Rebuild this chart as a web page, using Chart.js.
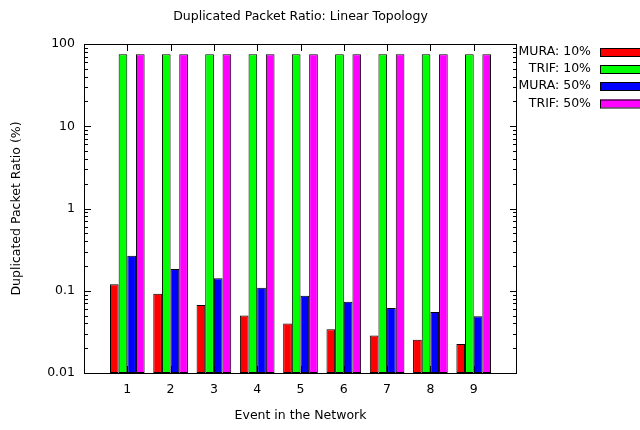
<!DOCTYPE html>
<html>
<head>
<meta charset="utf-8">
<script src="https://cdn.jsdelivr.net/npm/chart.js@4"></script>
<style>
html,body{margin:0;padding:0;background:#fff;}
#wrap{width:640px;height:430px;}
</style>
</head>
<body>
<div id="wrap"><canvas id="c" width="640" height="430"></canvas></div>
<script>
const categories = [1, 2, 3, 4, 5, 6, 7, 8, 9];
const muraLow  = [0.12, 0.092, 0.067, 0.050, 0.040, 0.034, 0.0285, 0.0254, 0.0225];
const trifLow  = [75, 75, 75, 75, 75, 75, 75, 75, 75];
const muraHigh = [0.267, 0.184, 0.142, 0.109, 0.087, 0.0736, 0.0617, 0.0552, 0.0489];
const trifHigh = [75, 75, 75, 75, 75, 75, 75, 75, 75];
const seriesNames = ['MURA: 10%', 'TRIF: 10%', 'MURA: 50%', 'TRIF: 50%'];
const seriesColors = ['#ff0000', '#00ff00', '#0000ff', '#ff00ff'];
const yMajorTicks = [0.01, 0.1, 1, 10, 100];
const titleText = 'Duplicated Packet Ratio: Linear Topology';
const xTitle = 'Event in the Network';
const yTitle = 'Duplicated Packet Ratio (%)';

const FONT = '"DejaVu Sans", sans-serif';
const FS = 12.5;
Chart.defaults.color = '#000';
Chart.defaults.font.family = FONT;
Chart.defaults.font.size = FS;

const allSeries = [muraLow, trifLow, muraHigh, trifHigh];
const datasets = allSeries.map((vals, i) => ({
  label: seriesNames[i],
  data: categories.map((c, j) => ({x: c, y: vals[j]})),
  backgroundColor: seriesColors[i],
  borderColor: '#000',
  borderWidth: 1,
  borderSkipped: false,
  categoryPercentage: 0.8,
  barPercentage: 1.0
}));

const framePlugin = {
  id: 'frame',
  beforeDatasetsDraw(chart) {
    const {ctx, chartArea: a, scales} = chart;
    ctx.save();
    ctx.strokeStyle = '#000';
    ctx.lineWidth = 1;
    ctx.beginPath();
    categories.forEach(c => {
      const x = Math.round(scales.x.getPixelForValue(c)) + 0.5;
      ctx.moveTo(x, a.bottom); ctx.lineTo(x, a.bottom - 7);
      ctx.moveTo(x, a.top); ctx.lineTo(x, a.top + 7);
    });
    yMajorTicks.forEach((d, k) => {
      const y = Math.round(scales.y.getPixelForValue(d)) + 0.5;
      ctx.moveTo(a.left, y); ctx.lineTo(a.left + 7, y);
      ctx.moveTo(a.right, y); ctx.lineTo(a.right - 7, y);
      if (k < yMajorTicks.length - 1) {
        for (let m = 2; m <= 9; m++) {
          const ym = Math.round(scales.y.getPixelForValue(d * m)) + 0.5;
          ctx.moveTo(a.left, ym); ctx.lineTo(a.left + 4, ym);
          ctx.moveTo(a.right, ym); ctx.lineTo(a.right - 4, ym);
        }
      }
    });
    ctx.stroke();
    ctx.restore();
  },
  afterDatasetsDraw(chart) {
    const {ctx, chartArea: a} = chart;
    ctx.save();
    ctx.strokeStyle = '#000';
    ctx.lineWidth = 1;
    ctx.strokeRect(Math.round(a.left) + 0.5, Math.round(a.top) + 0.5,
                   Math.round(a.right - a.left) - 1, Math.round(a.bottom - a.top));
    ctx.restore();
  },
  afterDraw(chart) {
    const {ctx, chartArea: a} = chart;
    ctx.save();
    ctx.fillStyle = '#000';
    ctx.font = FS + 'px ' + FONT;
    ctx.textBaseline = 'middle';
    ctx.textAlign = 'center';
    ctx.fillText(titleText, (a.left + a.right) / 2, 17);
    ctx.fillText(xTitle, (a.left + a.right) / 2, 416);
    ctx.save();
    ctx.translate(17, (a.top + a.bottom) / 2);
    ctx.rotate(-Math.PI / 2);
    ctx.fillText(yTitle, 0, 0);
    ctx.restore();
    const rows = [52, 69, 86, 103.5];
    seriesNames.forEach((n, i) => {
      ctx.textAlign = 'right';
      ctx.fillStyle = '#000';
      ctx.fillText(n, 591, rows[i]);
      ctx.fillStyle = seriesColors[i];
      ctx.fillRect(600, rows[i] - 4, 48, 8);
      ctx.strokeStyle = '#000';
      ctx.strokeRect(600.5, rows[i] - 4 + 0.5, 48, 8);
    });
    ctx.restore();
  }
};

new Chart(document.getElementById('c'), {
  type: 'bar',
  data: { datasets },
  options: {
    responsive: false,
    animation: false,
    events: [],
    layout: { padding: { left: 0, right: 123, top: 44, bottom: 0 } },
    plugins: { legend: { display: false }, title: { display: false }, tooltip: { enabled: false } },
    scales: {
      x: {
        type: 'linear',
        min: 0, max: 10,
        offset: false,
        grid: { display: false, drawTicks: false },
        border: { display: false },
        ticks: {
          stepSize: 1,
          padding: 9,
          maxRotation: 0,
          autoSkip: false,
          callback: v => (categories.includes(v) ? String(v) : '')
        },
        afterFit: s => { s.height = 57; }
      },
      y: {
        type: 'logarithmic',
        min: 0.01, max: 100,
        grid: { display: false, drawTicks: false },
        border: { display: false },
        ticks: {
          padding: 9,
          autoSkip: false,
          callback: v => String(v)
        },
        afterBuildTicks: s => { s.ticks = yMajorTicks.map(v => ({value: v})); },
        afterFit: s => { s.width = 84; }
      }
    }
  },
  plugins: [framePlugin]
});
</script>
</body>
</html>
